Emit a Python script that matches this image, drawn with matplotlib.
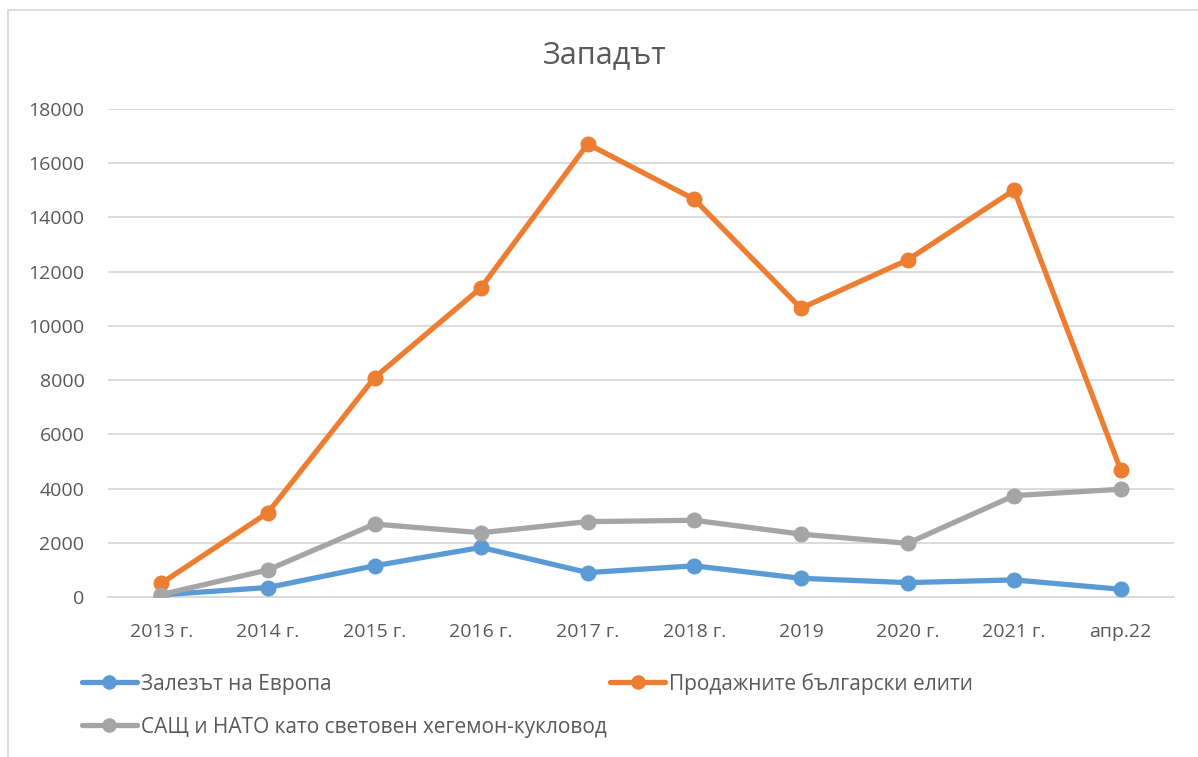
import matplotlib
matplotlib.use('Agg')
import matplotlib.pyplot as plt
from matplotlib.lines import Line2D

plt.rcParams['font.family'] = ['Open Sans', 'DejaVu Sans']

# данни
categories = ['2013 г.', '2014 г.', '2015 г.', '2016 г.', '2017 г.', '2018 г.',
              '2019', '2020 г.', '2021 г.', 'апр.22']
europe = [80, 350, 1150, 1830, 900, 1150, 690, 530, 630, 285]
elites = [505, 3110, 8090, 11410, 16710, 14670, 10650, 12430, 15010, 4690]
usa_nato = [90, 1000, 2690, 2370, 2780, 2830, 2320, 1980, 3740, 3975]
names = ['Залезът на Европа', 'Продажните български елити',
         'САЩ и НАТО като световен хегемон-кукловод']
colors = ['#5B9BD5', '#ED7D31', '#A5A5A5']

TXT = '#595959'
GRID = '#D9D9D9'


def main():
    fig = plt.figure(figsize=(11.98, 7.57), dpi=100)
    ax = fig.add_axes([108 / 1198, 1 - 597 / 757, (1174 - 108) / 1198, (597 - 109) / 757])

    x = range(len(categories))
    lines = []
    for y, name, c in zip([europe, elites, usa_nato], names, colors):
        ln, = ax.plot(x, y, color=c, lw=3.8, marker='o', ms=10.5,
                      label=name, solid_capstyle='round', zorder=3)
        lines.append(ln)

    ax.set_xlim(-0.5, len(categories) - 0.5)
    ax.set_ylim(0, 18000)
    ax.set_yticks(range(0, 18001, 2000))
    ax.set_xticks(list(x))
    ax.set_xticklabels(categories)
    ax.grid(axis='y', color=GRID, lw=1.3)
    ax.set_axisbelow(True)
    for s in ['top', 'right', 'left']:
        ax.spines[s].set_visible(False)
    ax.spines['bottom'].set_color(GRID)
    ax.spines['bottom'].set_linewidth(1.3)
    ax.tick_params(length=0, labelsize=14, colors=TXT)
    ax.tick_params(axis='y', pad=17)
    ax.tick_params(axis='x', pad=19)

    fig.text(605 / 1198, 1 - 55 / 757, 'Западът', ha='center', va='center',
             fontsize=22, color=TXT)

    # легенда: ред 1 синьо + оранжево, ред 2 сиво
    fig.legend([lines[0], lines[2], lines[1]], [names[0], names[2], names[1]],
               ncol=2, loc='upper left', bbox_to_anchor=(63 / 1198, 1 - 654 / 757),
               frameon=False, fontsize=15, labelcolor=TXT,
               handlelength=2.65, handletextpad=0.2, columnspacing=0.15,
               labelspacing=1.05, markerscale=0.9)

    # рамка на диаграмата
    fig.add_artist(Line2D([8 / 1198, 8 / 1198, 1], [0, 1 - 10 / 757, 1 - 10 / 757],
                          transform=fig.transFigure, color=GRID, lw=1.3))

    fig.savefig('out.png', dpi=100)


if __name__ == '__main__':
    main()
